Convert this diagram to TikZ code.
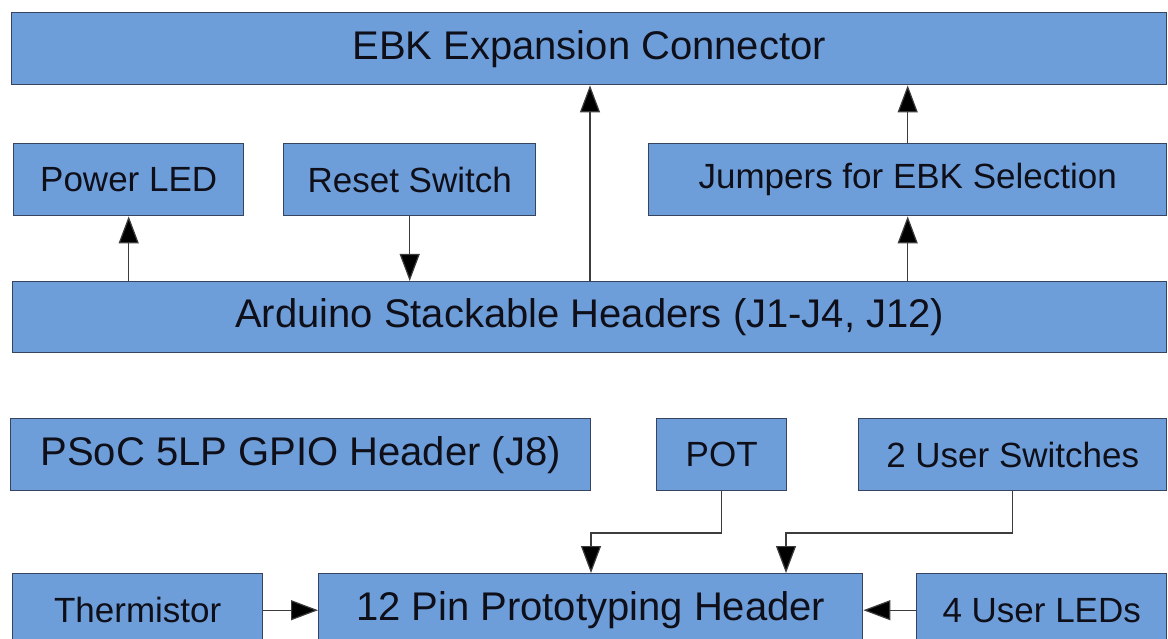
\documentclass[tikz,border=0pt]{standalone}
\usepackage{fontspec}
\setmainfont{Liberation Sans}
\usetikzlibrary{arrows.meta}
\definecolor{boxfill}{RGB}{110,158,218}
\definecolor{boxline}{RGB}{55,68,95}
\definecolor{wire}{RGB}{60,60,60}
\definecolor{txt}{RGB}{15,15,25}
\tikzset{
  blk/.style={draw=boxline, line width=1.4pt, fill=boxfill, anchor=north west, inner sep=0pt, text=txt, font=\fontsize{35}{40}\selectfont},
  bigblk/.style={blk, font=\fontsize{40}{46}\selectfont},
  arr/.style={draw=wire, line width=1.2pt, -{Triangle[length=27pt,width=20pt,fill=black]}},
}
\begin{document}
\begin{tikzpicture}[x=1pt,y=-1pt]
\useasboundingbox (0,0) rectangle (1168,639);
\fill[white] (0,0) rectangle (1168,639);
% top
\node[bigblk, minimum width=1155pt, minimum height=72pt] (ebk) at (11,12) {EBK Expansion Connector};
\node[blk, minimum width=230pt, minimum height=72pt] (pled) at (13,143) {Power LED};
\node[blk, minimum width=252pt, minimum height=72pt] (reset) at (283,143) {Reset Switch};
\node[blk, minimum width=518pt, minimum height=72pt] (jump) at (648,143) {Jumpers for EBK Selection};
\node[bigblk, minimum width=1154pt, minimum height=71pt] (ard) at (12,281) {Arduino Stackable Headers (J1-J4, J12)};
% lower
\node[bigblk, minimum width=580pt, minimum height=72pt] (psoc) at (10,418) {PSoC 5LP GPIO Header (J8)};
\node[blk, minimum width=130pt, minimum height=72pt] (pot) at (656,418) {POT};
\node[blk, minimum width=308pt, minimum height=72pt] (sw) at (858,418) {2 User Switches};
\node[blk, minimum width=250pt, minimum height=73pt] (therm) at (12,573) {Thermistor};
\node[bigblk, minimum width=544pt, minimum height=73pt] (proto) at (318,573) {12 Pin Prototyping Header};
\node[blk, minimum width=250pt, minimum height=73pt] (leds) at (916,573) {4 User LEDs};
% helper coordinates
\coordinate (cebk) at (590,0);
\coordinate (cpot) at (591,0);
\coordinate (csw) at (786,0);
\coordinate (ylane) at (0,533);
% connectors
\draw[arr] (ard.north -| pled.south) -- (pled.south);
\draw[arr] (reset.south) -- (ard.north -| reset.south);
\draw[arr] (ard.north -| cebk) -- (ebk.south -| cebk);
\draw[arr] (ard.north -| jump.south) -- (jump.south);
\draw[arr] (jump.north) -- (ebk.south -| jump.north);
\draw[arr] (pot.south) -- (pot.south |- ylane) -- (cpot |- ylane) -- (proto.north -| cpot);
\draw[arr] (sw.south) -- (sw.south |- ylane) -- (csw |- ylane) -- (proto.north -| csw);
\draw[arr] (therm.east) -- (proto.west);
\draw[arr] (leds.west) -- (proto.east);
\end{tikzpicture}
\end{document}
